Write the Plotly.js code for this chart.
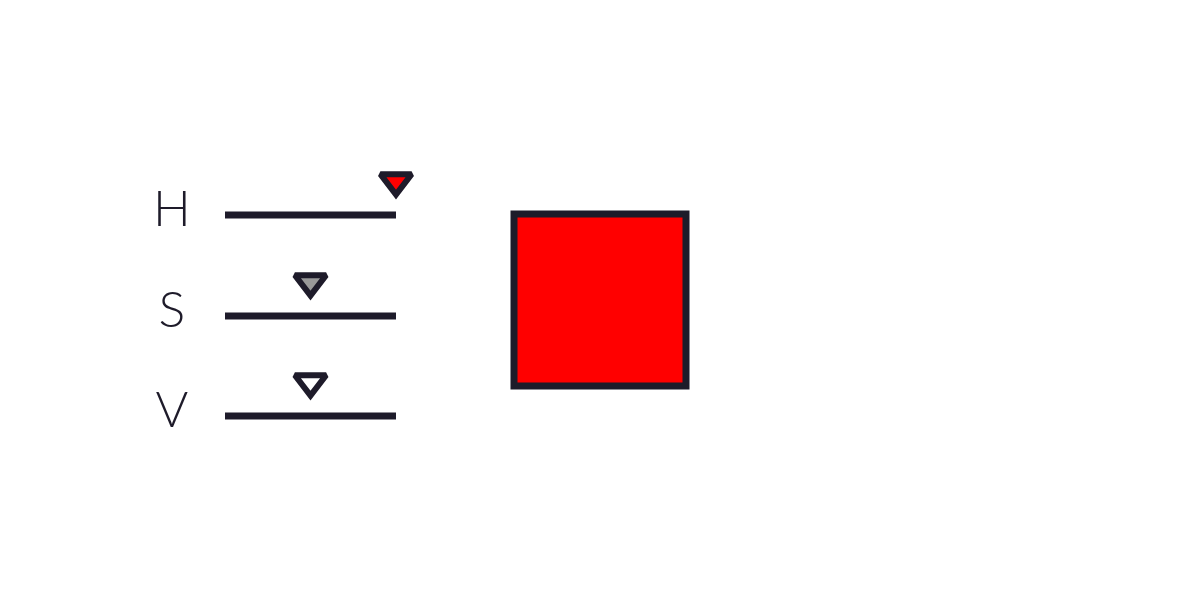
<!DOCTYPE html>
<html>
<head>
<script src="https://cdn.plot.ly/plotly-3.0.1.min.js"></script>
<style>body{margin:0}#chart{width:1200px;height:600px}</style>
</head>
<body>
<div id="chart"></div>
<script>
// slider channels and their values (fraction of track)
const channels = ['H', 'S', 'V'];
const values = [1.0, 0.5, 0.5];
const knobColors = ['#ff0000', '#999999', '#ffffff'];
const swatchColor = '#ff0000';

const ink = '#1e1b2a';
const trackStart = 225, trackEnd = 396;
const rowY = [215, 316, 416];

const traces = [];

// labels
traces.push({
    x: channels.map(() => 172), y: rowY.map(y => y - 2), text: channels,
    mode: 'text', textfont: {family: 'Lato', size: 50, color: ink, weight: 300},
    hoverinfo: 'skip'
});

for (let i = 0; i < channels.length; i++) {
    // track
    traces.push({
        x: [trackStart, trackEnd], y: [rowY[i], rowY[i]], mode: 'lines',
        line: {color: ink, width: 7}, hoverinfo: 'skip'
    });
    // knob
    const kx = trackStart + values[i] * (trackEnd - trackStart);
    traces.push({
        x: [kx], y: [rowY[i] - 34], mode: 'markers',
        marker: {symbol: 'triangle-down', size: 27, color: knobColors[i], line: {color: ink, width: 6}},
        hoverinfo: 'skip'
    });
}

// colour swatch
traces.push({
    x: [600], y: [300], mode: 'markers',
    marker: {symbol: 'square', size: 172, color: swatchColor, line: {color: ink, width: 7}},
    hoverinfo: 'skip'
});

const layout = {
    width: 1200, height: 600, showlegend: false,
    margin: {l: 0, r: 0, t: 0, b: 0},
    paper_bgcolor: '#ffffff', plot_bgcolor: '#ffffff',
    xaxis: {range: [0, 1200], visible: false, fixedrange: true},
    yaxis: {range: [600, 0], visible: false, fixedrange: true}
};

Plotly.newPlot('chart', traces, layout, {displayModeBar: false, staticPlot: true});
</script>
</body>
</html>
